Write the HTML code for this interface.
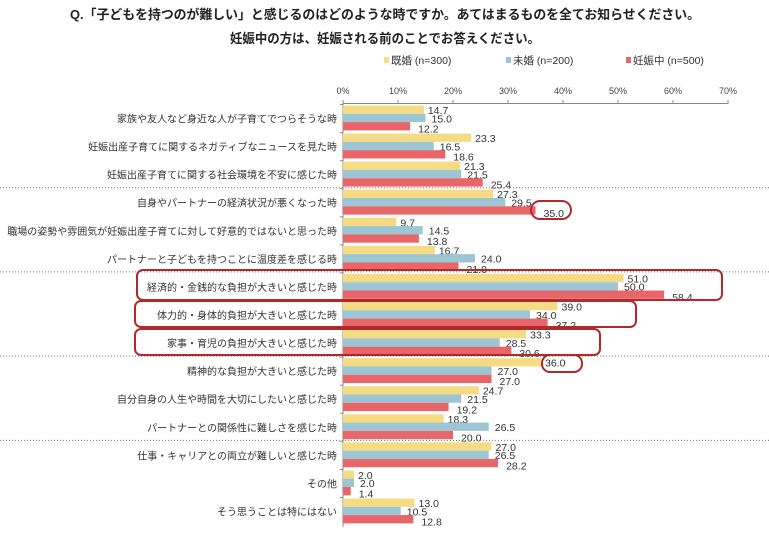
<!DOCTYPE html>
<html><head><meta charset="utf-8"><style>
body{margin:0;background:#fff;}
text{font-family:"Liberation Sans","Noto Sans CJK JP",sans-serif;}
</style></head><body>
<svg width="769" height="529" xmlns="http://www.w3.org/2000/svg">
<text x="385" y="19" text-anchor="middle" font-size="13" font-weight="bold" fill="#222" textLength="630" lengthAdjust="spacingAndGlyphs">Q.「子どもを持つのが難しい」と感じるのはどのような時ですか。あてはまるものを全てお知らせください。</text>
<text x="385" y="43" text-anchor="middle" font-size="13" font-weight="bold" fill="#222" textLength="310" lengthAdjust="spacingAndGlyphs">妊娠中の方は、妊娠される前のことでお答えください。</text>
<rect x="384" y="57" width="5" height="6" fill="#f5dc84"/><text x="391" y="64" font-size="10.5" fill="#333">既婚 (n=300)</text>
<rect x="506" y="57" width="5" height="6" fill="#9cc6d4"/><text x="513" y="64" font-size="10.5" fill="#333">未婚 (n=200)</text>
<rect x="626" y="57" width="5" height="6" fill="#e8666a"/><text x="633" y="64" font-size="10.5" fill="#333">妊娠中 (n=500)</text>
<g id="c"></g>
</svg>
<script>
const ns="http://www.w3.org/2000/svg",g=document.getElementById('c');
function el(t,a,tx){const e=document.createElementNS(ns,t);for(const k in a)e.setAttribute(k,a[k]);if(tx!=null)e.textContent=tx;g.appendChild(e);return e;}
const X0=343,S=5.5;
for(let k=0;k<=7;k++){el('text',{x:X0+k*55,y:94,'font-size':9,'text-anchor':'middle',fill:'#444'},k*10+'%');el('line',{x1:X0+k*55,y1:100,x2:X0+k*55,y2:104,stroke:'#888'});}
el('line',{x1:X0,y1:103.5,x2:X0+385,y2:103.5,stroke:'#888'});
el('line',{x1:X0,y1:103.5,x2:X0,y2:527,stroke:'#888'});
const d=[["家族や友人など身近な人が子育てでつらそうな時",14.7,15.0,12.2],["妊娠出産子育てに関するネガティブなニュースを見た時",23.3,16.5,18.6],["妊娠出産子育てに関する社会環境を不安に感じた時",21.3,21.5,25.4],["自身やパートナーの経済状況が悪くなった時",27.3,29.5,35.0],["職場の姿勢や雰囲気が妊娠出産子育てに対して好意的ではないと思った時",9.7,14.5,13.8],["パートナーと子どもを持つことに温度差を感じる時",16.7,24.0,21.0],["経済的・金銭的な負担が大きいと感じた時",51.0,50.0,58.4],["体力的・身体的負担が大きいと感じた時",39.0,34.0,37.2],["家事・育児の負担が大きいと感じた時",33.3,28.5,30.6],["精神的な負担が大きいと感じた時",36.0,27.0,27.0],["自分自身の人生や時間を大切にしたいと感じた時",24.7,21.5,19.2],["パートナーとの関係性に難しさを感じた時",18.3,26.5,20.0],["仕事・キャリアとの両立が難しいと感じた時",27.0,26.5,28.2],["その他",2.0,2.0,1.4],["そう思うことは特にはない",13.0,10.5,12.8]];
const cols=["#f5dc84","#9cc6d4","#e8666a"];
d.forEach((r,i)=>{const t=104.5+i*28.07;
 el('line',{x1:X0-3,y1:t,x2:X0,y2:t,stroke:'#888'});
 for(let j=0;j<3;j++){const y=t+1+j*8.3,w=r[j+1]*S;
  el('rect',{x:X0,y:y,width:w,height:8.3,fill:cols[j]});
  el('text',{x:X0+w+4+j*2,y:y+8.5+(j==2?2:0),'font-size':10.5,fill:'#333'},r[j+1].toFixed(1));}
 el('text',{x:337,y:t+18,'font-size':10,'text-anchor':'end',fill:'#333'},r[0]);
});
[3,6,9,12].forEach(i=>{const y=104.5+i*28.07-1;el('line',{x1:0,y1:y,x2:769,y2:y,stroke:'#777','stroke-dasharray':'1,2'});});
const red="#b02a2a";
el('rect',{x:137,y:270,width:585,height:30,rx:6,fill:'none',stroke:red,'stroke-width':2});
el('rect',{x:135,y:301,width:501,height:26,rx:6,fill:'none',stroke:red,'stroke-width':2});
el('rect',{x:135,y:329,width:465,height:26,rx:6,fill:'none',stroke:red,'stroke-width':2});
el('rect',{x:531,y:201,width:40,height:18,rx:9,fill:'none',stroke:red,'stroke-width':2});
el('rect',{x:542,y:355,width:40,height:17,rx:8,fill:'none',stroke:red,'stroke-width':2});
</script>
</body></html>
